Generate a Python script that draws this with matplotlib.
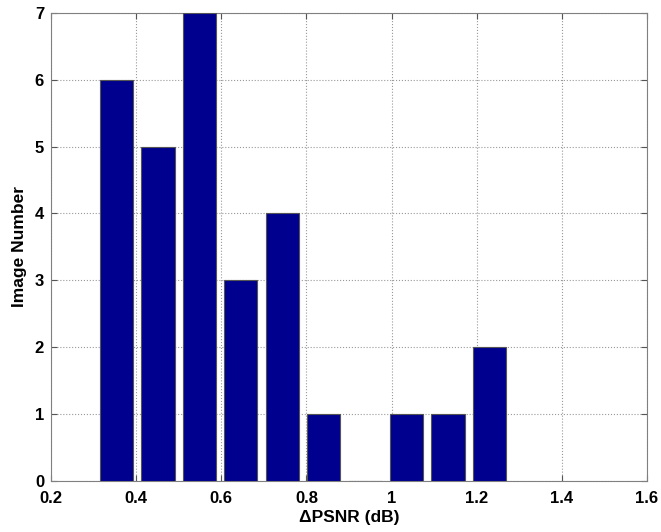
import matplotlib
matplotlib.use("Agg")
import matplotlib.pyplot as plt
import numpy as np

bin_centers = [0.354 + k * 0.0973 for k in range(10)]
counts = [6, 5, 7, 3, 4, 1, 0, 1, 1, 2]
xticks = [0.2, 0.4, 0.6, 0.8, 1.0, 1.2, 1.4, 1.6]
xticklabels = ["0.2", "0.4", "0.6", "0.8", "1", "1.2", "1.4", "1.6"]
yticks = [0, 1, 2, 3, 4, 5, 6, 7]

plt.rcParams['font.family'] = ['Liberation Sans', 'DejaVu Sans']
plt.rcParams['font.weight'] = 'bold'

fig = plt.figure(figsize=(6.61, 5.32), dpi=100)
ax = fig.add_axes([0.0772, 0.0959, 0.9017, 0.880])
ax.bar(bin_centers, counts, width=0.0973 * 0.8, color='#00008F',
       edgecolor='#555555', linewidth=0.8, zorder=3)
ax.set_xlim(0.2, 1.6)
ax.set_ylim(0, 7)
ax.set_xticks(xticks)
ax.set_xticklabels(xticklabels)
ax.set_yticks(yticks)
ax.grid(True, linestyle=':', color='#999999', linewidth=0.8, zorder=0)
ax.tick_params(direction='in', top=True, right=True, labelsize=12,
               length=4, color='#555555')
ax.tick_params(axis='x', pad=7)
ax.tick_params(axis='y', pad=5)
for lab in ax.get_xticklabels() + ax.get_yticklabels():
    lab.set_fontweight('bold')
for s in ax.spines.values():
    s.set_color('#808080')
    s.set_linewidth(0.8)
ax.set_xlabel('\u0394PSNR (dB)', fontsize=12.5, fontweight='bold', labelpad=3)
ax.set_ylabel('Image Number', fontsize=12.5, fontweight='bold', labelpad=6)
fig.savefig('out.png', dpi=100)
